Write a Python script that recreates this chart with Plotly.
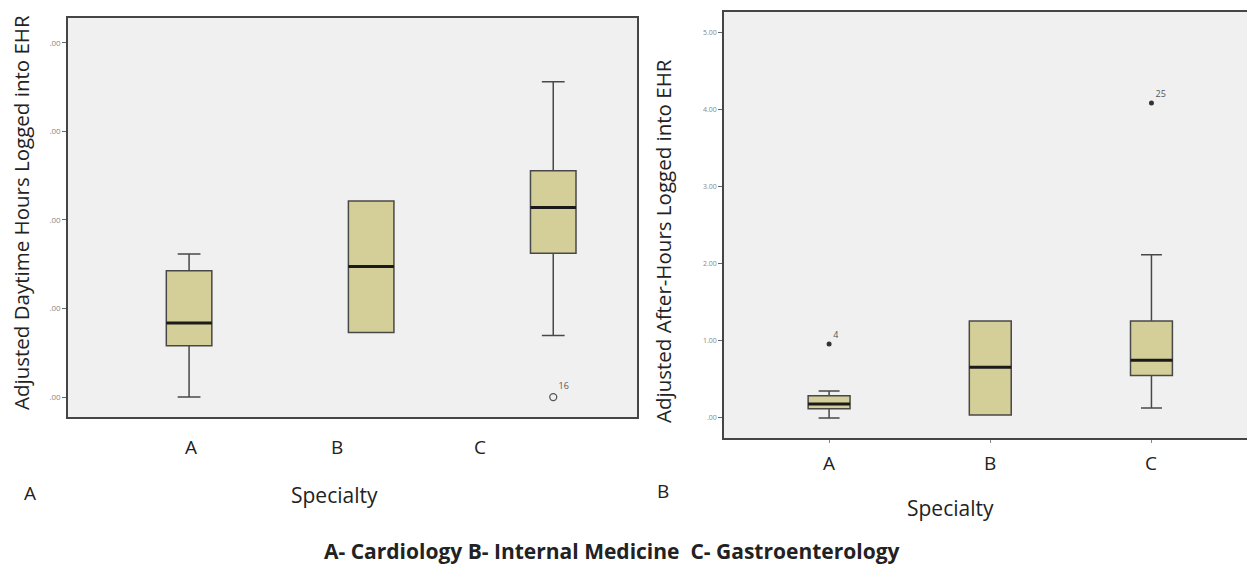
import plotly.graph_objects as go

# ---------------- data ----------------
specialties = ["A", "B", "C"]
positions = [1, 2, 3]

# Panel A: Adjusted daytime hours (tick labels are cropped to ".00" in the source)
day_q1 = [1.16, 1.46, 3.25]
day_median = [1.67, 2.95, 4.28]
day_q3 = [2.85, 4.43, 5.11]
day_lower = [0.0, 1.46, 1.39]
day_upper = [3.23, 4.43, 7.12]
day_outlier_x = [3]
day_outlier_y = [0.0]
day_outlier_id = ["16"]
day_ticks = [0, 2, 4, 6, 8]
day_ticktext = [".00", ".00", ".00", ".00", ".00"]
day_label_pos = [1.01, 1.81, 2.60]   # category labels sit offset in the source image

# Panel B: Adjusted after-hours
after_q1 = [0.12, 0.04, 0.55]
after_median = [0.18, 0.66, 0.75]
after_q3 = [0.29, 1.26, 1.26]
after_lower = [0.0, 0.04, 0.13]
after_upper = [0.35, 1.26, 2.12]
after_outlier_x = [1, 3]
after_outlier_y = [0.96, 4.09]
after_outlier_id = ["4", "25"]
after_ticks = [0, 1, 2, 3, 4, 5]
after_ticktext = [".00", "1.00", "2.00", "3.00", "4.00", "5.00"]

caption = "A- Cardiology B- Internal Medicine  C- Gastroenterology"

# ---------------- style / page geometry ----------------
FONT = "Open Sans"
BOX_FILL = "#d4cf98"
BOX_LINE = "#484848"
FRAME = "#454545"
BG = "#f0f0f0"
W_DAY = 0.25
W_AFTER = 0.26

PAGE_M = 8            # default body margin of the html page
FW, FH = 1255 - PAGE_M, 567 - PAGE_M


def px(x):
    return (x - PAGE_M) / FW


def py(y):
    return 1 - (y - PAGE_M) / FH


fig = go.Figure()

fig.add_trace(go.Box(
    x=positions, q1=day_q1, median=day_median, q3=day_q3,
    lowerfence=day_lower, upperfence=day_upper,
    width=W_DAY, whiskerwidth=0.5, fillcolor=BOX_FILL,
    line=dict(color=BOX_LINE, width=1.5), boxpoints=False,
    xaxis="x", yaxis="y", showlegend=False, hoverinfo="skip"))

fig.add_trace(go.Scatter(
    x=day_outlier_x, y=day_outlier_y, mode="markers+text",
    text=day_outlier_id, textposition="top right",
    textfont=dict(family=FONT, size=9, color="#555"),
    marker=dict(symbol="circle-open", size=7, color="#555", line=dict(width=1.3)),
    xaxis="x", yaxis="y", showlegend=False, hoverinfo="skip"))

fig.add_trace(go.Box(
    x=positions, q1=after_q1, median=after_median, q3=after_q3,
    lowerfence=after_lower, upperfence=after_upper,
    width=W_AFTER, whiskerwidth=0.5, fillcolor=BOX_FILL,
    line=dict(color=BOX_LINE, width=1.5), boxpoints=False,
    xaxis="x2", yaxis="y2", showlegend=False, hoverinfo="skip"))

fig.add_trace(go.Scatter(
    x=after_outlier_x, y=after_outlier_y, mode="markers+text",
    text=after_outlier_id, textposition="top right",
    textfont=dict(family=FONT, size=9, color="#555"),
    marker=dict(symbol="circle", size=5, color="#333"),
    xaxis="x2", yaxis="y2", showlegend=False, hoverinfo="skip"))

# thick median lines
shapes = []
for p, m in zip(positions, day_median):
    shapes.append(dict(type="line", xref="x", yref="y", x0=p - W_DAY / 2, x1=p + W_DAY / 2,
                       y0=m, y1=m, line=dict(color="#1a1a1a", width=3)))
for p, m in zip(positions, after_median):
    shapes.append(dict(type="line", xref="x2", yref="y2", x0=p - W_AFTER / 2, x1=p + W_AFTER / 2,
                       y0=m, y1=m, line=dict(color="#1a1a1a", width=3)))

annotations = []
# category labels
for p, s in zip(day_label_pos, specialties):
    annotations.append(dict(x=p, y=py(447), xref="x", yref="paper", text=s, showarrow=False,
                            yanchor="middle", font=dict(family=FONT, size=19, color="#222")))
for p, s in zip(positions, specialties):
    annotations.append(dict(x=p, y=py(463), xref="x2", yref="paper", text=s, showarrow=False,
                            yanchor="middle", font=dict(family=FONT, size=19, color="#222")))

texts = [
    ("Adjusted Daytime Hours Logged into EHR", 21, 213, -90, 20.5),
    ("Adjusted After-Hours Logged into EHR", 663, 241, -90, 20.5),
    ("Specialty", 334, 495, 0, 21),
    ("Specialty", 950, 508, 0, 21),
    ("A", 30, 493, 0, 19),
    ("B", 663, 491, 0, 19),
    ("<b>" + caption + "</b>", 612, 551, 0, 21),
]
for t, x, y, ang, sz in texts:
    annotations.append(dict(x=px(x), y=py(y), xref="paper", yref="paper", text=t,
                            showarrow=False, textangle=ang, xanchor="center", yanchor="middle",
                            font=dict(family=FONT, size=sz, color="#222")))

axis_common = dict(showline=True, mirror=True, linecolor=FRAME, linewidth=1.5,
                   showgrid=False, zeroline=False)

fig.update_layout(
    width=FW, height=FH,
    margin=dict(l=0, r=0, t=0, b=0),
    paper_bgcolor="white", plot_bgcolor=BG,
    font=dict(family=FONT),
    shapes=shapes, annotations=annotations,
    xaxis=dict(domain=[px(68), px(637)], range=[0.335, 3.46], anchor="y",
               tickvals=positions, ticktext=["", "", ""], ticks="", **axis_common),
    yaxis=dict(domain=[py(417), py(18)], range=[-0.45, 8.56], anchor="x",
               tickvals=day_ticks, ticktext=day_ticktext, ticks="outside", ticklen=4,
               tickcolor="#666", tickfont=dict(family=FONT, size=8, color="#888"), **axis_common),
    xaxis2=dict(domain=[px(724), px(1253)], range=[0.348, 3.63], anchor="y2",
                tickvals=positions, ticktext=["", "", ""], ticks="outside", ticklen=3,
                tickcolor="#888", **axis_common),
    yaxis2=dict(domain=[py(438), py(12)], range=[-0.26, 5.27], anchor="x2",
                tickvals=after_ticks, ticktext=after_ticktext, ticks="outside", ticklen=4,
                tickcolor="#666", tickfont=dict(family=FONT, size=7, color="#888"), **axis_common),
)

fig.write_html("out.html")
